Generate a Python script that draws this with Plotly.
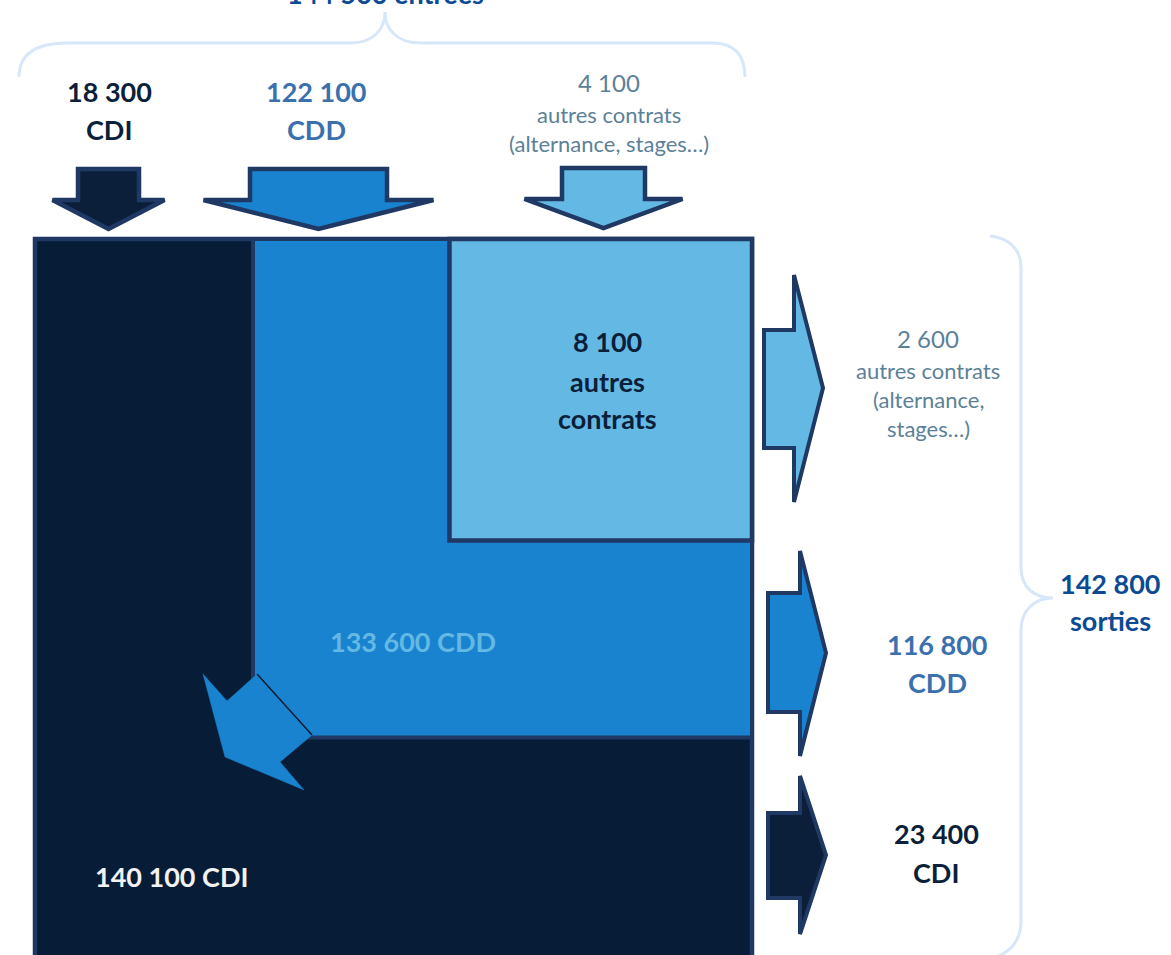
import plotly.graph_objects as go

# ---- data -------------------------------------------------------------
contract_types = ["CDI", "CDD", "autres contrats"]
entries = [18300, 122100, 4100]      # entrées par type de contrat
stocks = [140100, 133600, 8100]      # effectifs par type de contrat
exits = [23400, 116800, 2600]        # sorties par type de contrat
detail_other = "(alternance, stages…)"

# ---- styles -----------------------------------------------------------
NAVY = "#071c36"
ARROW_NAVY = "#0b1f3a"
BORDER = "#1f3864"
MID = "#1983cf"
LIGHT = "#64b9e4"
BRACE = "#d6e7f9"
GREY_TXT = "#5b8199"
CDD_TXT = "#3a70ae"
TOTAL_TXT = "#0c4a94"
FONT = "Lato"
W, H = 1171, 955


def fmt(v):
    return f"{v:,}".replace(",", " ")


fig = go.Figure()
shapes = []
annotations = []


def poly(points, fill, line_color=BORDER, width=4.5):
    path = "M " + " L ".join(f"{x},{y}" for x, y in points) + " Z"
    shapes.append(dict(type="path", path=path, xref="x", yref="y",
                       fillcolor=fill, line=dict(color=line_color, width=width),
                       layer="above"))


def down_arrow(cx, top, shoulder, tip, shaft_half, head_half, fill):
    poly([(cx - shaft_half, top), (cx + shaft_half, top), (cx + shaft_half, shoulder),
          (cx + head_half, shoulder), (cx, tip), (cx - head_half, shoulder),
          (cx - shaft_half, shoulder)], fill)


def right_arrow(left, shoulder_x, tip_x, cy, shaft_top, shaft_bot, head_top, head_bot, fill):
    poly([(left, shaft_top), (shoulder_x, shaft_top), (shoulder_x, head_top),
          (tip_x, cy), (shoulder_x, head_bot), (shoulder_x, shaft_bot),
          (left, shaft_bot)], fill, width=4)


def text(x, y, s, size, color, bold=False, yshift=0):
    annotations.append(dict(x=x, y=y, xref="x", yref="y", text=f"<b>{s}</b>" if bold else s,
                            showarrow=False, xanchor="center", yanchor="middle",
                            yshift=yshift,
                            font=dict(family=FONT, size=size, color=color)))


# ---- stock blocks -----------------------------------------------------
shapes.append(dict(type="rect", x0=35, x1=752, y0=239, y1=975, xref="x", yref="y",
                   fillcolor=NAVY, line=dict(color=BORDER, width=4.5), layer="below"))
shapes.append(dict(type="rect", x0=253, x1=752, y0=239, y1=737.5, xref="x", yref="y",
                   fillcolor=MID, line=dict(color=BORDER, width=4), layer="below"))
shapes.append(dict(type="rect", x0=449.5, x1=752, y0=239, y1=540.5, xref="x", yref="y",
                   fillcolor=LIGHT, line=dict(color=BORDER, width=4.5), layer="below"))

# CDD -> CDI conversion arrow
poly([(203, 674), (227, 701), (257, 674), (312, 735), (280, 762), (304, 790), (225, 757)],
     MID, line_color=MID, width=0.5)
shapes.append(dict(type="line", x0=257, y0=674, x1=312, y1=735, xref="x", yref="y",
                   line=dict(color="#0a1a30", width=1.5), layer="above"))

# ---- entry arrows -----------------------------------------------------
down_arrow(108.5, 169, 200, 229, 30.5, 56, ARROW_NAVY)
down_arrow(318.5, 169, 200, 229, 68.5, 115, MID)
down_arrow(603.5, 168, 199, 228, 41.5, 79, LIGHT)

# ---- exit arrows ------------------------------------------------------
right_arrow(764, 794, 823, 388, 330, 448, 275, 502, LIGHT)
right_arrow(768, 800, 826, 653, 593, 712, 551, 756, MID)
right_arrow(768, 800, 826, 855, 813, 898, 776, 934, ARROW_NAVY)

# ---- braces -----------------------------------------------------------
shapes.append(dict(type="path", xref="x", yref="y", layer="above",
                   path="M 19,77 C 19,55 35,43 68,43 L 351,43 C 372,43 385,30 385,12 "
                        "C 385,30 398,43 420,43 L 712,43 C 735,43 745,55 745,77",
                   line=dict(color=BRACE, width=3)))
shapes.append(dict(type="path", xref="x", yref="y", layer="above",
                   path="M 990,236 C 1010,238 1021,250 1021,268 L 1021,568 "
                        "C 1021,588 1035,598 1053,598 C 1035,598 1021,610 1021,630 "
                        "L 1021,922 C 1021,940 1010,953 995,957",
                   line=dict(color=BRACE, width=3)))

# ---- labels -----------------------------------------------------------
BIG = 27
SMALL = 22
# totals (the entries total sits at the very top edge of the page)
text(385, 0, f"{fmt(sum(entries))} entrées", BIG, TOTAL_TXT, bold=True, yshift=7)
text(1110, 583, fmt(sum(exits)), BIG, TOTAL_TXT, bold=True)
text(1110, 620, "sorties", BIG, TOTAL_TXT, bold=True)

# entries
text(109, 91, fmt(entries[0]), BIG, ARROW_NAVY, bold=True)
text(109, 129, contract_types[0], BIG, ARROW_NAVY, bold=True)
text(316, 91, fmt(entries[1]), BIG, CDD_TXT, bold=True)
text(316, 129, contract_types[1], BIG, CDD_TXT, bold=True)
text(609, 82, fmt(entries[2]), 24, GREY_TXT)
text(609, 114, contract_types[2], SMALL, GREY_TXT)
text(609, 143, detail_other, SMALL, GREY_TXT)

# stocks
text(607, 341, fmt(stocks[2]), BIG, ARROW_NAVY, bold=True)
for y, word in zip([381, 418], contract_types[2].split()):
    text(607, y, word, BIG, ARROW_NAVY, bold=True)
text(413, 641, f"{fmt(stocks[1])} {contract_types[1]}", BIG, LIGHT, bold=True)
text(171, 876, f"{fmt(stocks[0])} {contract_types[0]}", BIG, "#f2f2f2", bold=True)

# exits
text(928, 338, fmt(exits[2]), 24, GREY_TXT)
text(928, 370, contract_types[2], SMALL, GREY_TXT)
for y, part in zip([399, 428], detail_other.split(" ")):
    text(928, y, part, SMALL, GREY_TXT)
text(937, 644, fmt(exits[1]), BIG, CDD_TXT, bold=True)
text(937, 682, contract_types[1], BIG, CDD_TXT, bold=True)
text(936, 833, fmt(exits[0]), BIG, ARROW_NAVY, bold=True)
text(936, 872, contract_types[0], BIG, ARROW_NAVY, bold=True)

fig.update_layout(
    width=W, height=H,
    margin=dict(l=0, r=0, t=0, b=0),
    paper_bgcolor="white", plot_bgcolor="white",
    xaxis=dict(range=[0, W], visible=False, fixedrange=True),
    yaxis=dict(range=[H, 0], visible=False, fixedrange=True),
    shapes=shapes, annotations=annotations,
    showlegend=False,
)
fig.write_html("out.html", config={"displayModeBar": False})
